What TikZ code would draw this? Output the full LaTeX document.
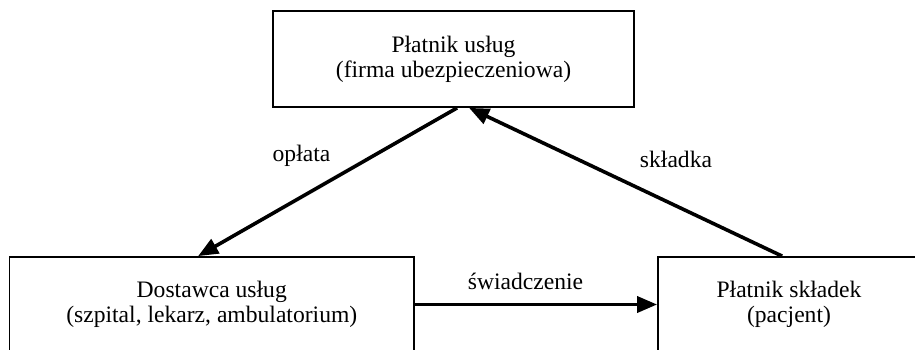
\documentclass[tikz,border=0pt]{standalone}
\usepackage{fontspec}
\setmainfont{Liberation Serif}
\usetikzlibrary{positioning,arrows.meta}

\begin{document}
\begin{tikzpicture}[x=1pt, y=-1pt, font=\fontsize{23.6}{25}\selectfont,
    box/.style={draw, line width=1.8pt, align=center, inner sep=0pt},
    flow/.style={line width=3.6pt, -{Triangle[length=20pt,width=16pt]}}]
    \useasboundingbox (0,0) rectangle (915,349);
    % the three parties
    \node[box, minimum width=361pt, minimum height=96pt] (payer) at (453.5,59)
      {Płatnik usług\\(firma ubezpieczeniowa)};
    \node[box, minimum width=404.5pt, minimum height=95pt] (provider) at (211.75,304.5)
      {Dostawca usług\\(szpital, lekarz, ambulatorium)};
    \node[box, minimum width=262pt, minimum height=95pt] (patient) at (789,304.5)
      {Płatnik składek\\(pacjent)};
    % money and services
    \draw[flow] ([xshift=185pt]payer.south west) -- ([xshift=189.5pt]provider.north west);
    \draw[flow] ([xshift=125pt]patient.north west) -- ([xshift=197pt]payer.south west);
    \draw[flow] (provider.east) -- (patient.west);
    \node[anchor=base] (fee) at (301.5,161) {opłata};
    \node[anchor=base] (premium) at (676,167.5) {składka};
    \node[anchor=base] (service) at (525.5,289) {świadczenie};
  \end{tikzpicture}
\end{document}
